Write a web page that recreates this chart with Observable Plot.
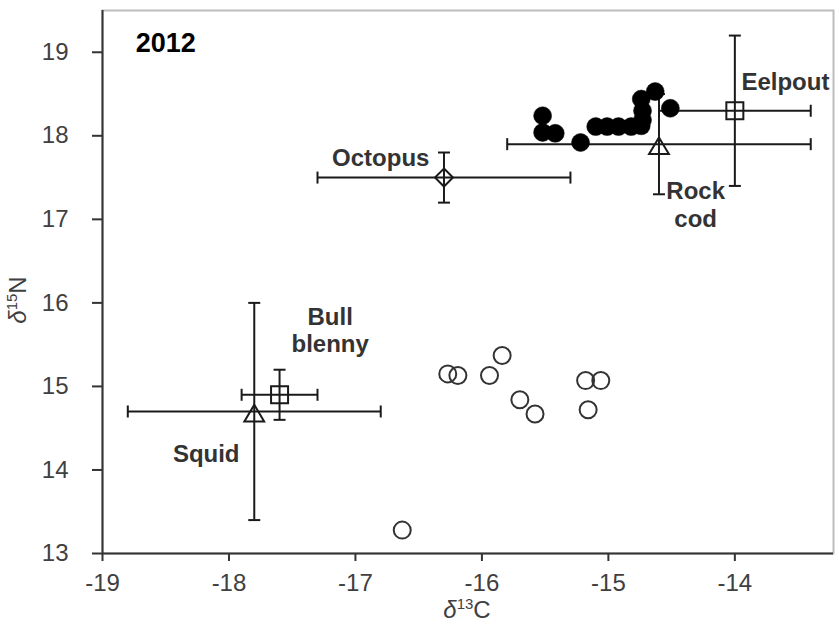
<!DOCTYPE html>
<html><head><meta charset="utf-8">
<script src="https://cdn.jsdelivr.net/npm/d3@7"></script>
<script src="https://cdn.jsdelivr.net/npm/@observablehq/plot@0.6"></script>
<style>
body{margin:0;background:#fff;}
#chart svg{display:block;}
</style>
</head><body><div id="chart"></div>
<script>
// Filled circles (one group of individuals)
const filledX = [-15.52, -15.52, -15.42, -15.22, -15.10, -15.01, -14.92, -14.82, -14.74, -14.73, -14.73, -14.74, -14.63, -14.51];
const filledY = [18.24, 18.04, 18.03, 17.92, 18.11, 18.11, 18.11, 18.11, 18.12, 18.19, 18.30, 18.44, 18.53, 18.33];
// Open circles (second group of individuals)
const openX = [-16.27, -16.19, -15.94, -15.84, -15.70, -15.58, -15.18, -15.06, -15.16, -16.63];
const openY = [15.15, 15.13, 15.13, 15.37, 14.84, 14.67, 15.07, 15.07, 14.72, 13.28];
// Prey species means ± SD
const species = ["Eelpout", "Rock cod", "Octopus", "Squid", "Bull blenny"];
const speciesX = [-14.0, -14.6, -16.3, -17.8, -17.6];
const speciesY = [18.3, 17.9, 17.5, 14.7, 14.9];
const speciesXErr = [0.6, 1.2, 1.0, 1.0, 0.3];
const speciesYErr = [0.9, 0.6, 0.3, 1.3, 0.3];
const speciesShape = ["square", "triangle", "diamond", "triangle", "square"];
// Annotation text and anchor (data units)
const labelText = ["2012", "Eelpout", "Rock\ncod", "Octopus", "Squid", "Bull\nblenny"];
const labelX = [-18.50, -13.60, -14.31, -16.80, -18.18, -17.20];
const labelY = [19.12, 18.66, 17.18, 17.74, 14.20, 15.68];
// Axes
const xTicks = [-19, -18, -17, -16, -15, -14];
const yTicks = [13, 14, 15, 16, 17, 18, 19];
const xDomain = [-19, -13.22];
const yDomain = [13, 19.5];

const filled = filledX.map((x, i) => ({x, y: filledY[i]}));
const open = openX.map((x, i) => ({x, y: openY[i]}));
const prey = species.map((name, i) => ({name, x: speciesX[i], y: speciesY[i], xe: speciesXErr[i], ye: speciesYErr[i], shape: speciesShape[i]}));
const labels = labelText.map((t, i) => ({t, x: labelX[i], y: labelY[i], year: i === 0}));

const hCap = {draw(ctx, size) { const h = Math.sqrt(size / Math.PI); ctx.moveTo(-h, 0); ctx.lineTo(h, 0); }};
const vCap = {draw(ctx, size) { const h = Math.sqrt(size / Math.PI); ctx.moveTo(0, -h); ctx.lineTo(0, h); }};
const tri = {draw(ctx, size) { const r = Math.sqrt(size / Math.PI); ctx.moveTo(0, -0.75 * r); ctx.lineTo(1.1 * r, 1.1 * r); ctx.lineTo(-1.1 * r, 1.1 * r); ctx.closePath(); }};
const sq = {draw(ctx, size) { const r = Math.sqrt(size / Math.PI); ctx.rect(-r, -r, 2 * r, 2 * r); }};
const dia = {draw(ctx, size) { const r = Math.sqrt(size / Math.PI); ctx.moveTo(0, -r); ctx.lineTo(r, 0); ctx.lineTo(0, r); ctx.lineTo(-r, 0); ctx.closePath(); }};
const shapeOf = {square: sq, triangle: tri, diamond: dia};

const barColor = "#1a1a1a";
const plot = Plot.plot({
  width: 839, height: 627,
  marginLeft: 102, marginRight: 6, marginTop: 10, marginBottom: 74,
  style: {fontFamily: "'Liberation Sans', Arial, sans-serif", background: "#fff", overflow: "visible"},
  x: {domain: xDomain, label: null},
  y: {domain: yDomain, label: null},
  marks: [
    Plot.frame({stroke: "#bdbdbd", strokeWidth: 2}),
    Plot.ruleX([xDomain[0]], {stroke: "#333", strokeWidth: 2}),
    Plot.ruleY([yDomain[0]], {stroke: "#333", strokeWidth: 2}),
    Plot.axisX({ticks: xTicks, tickSize: 8, tickPadding: 12, fontSize: 24, stroke: "#333", strokeWidth: 2, fill: "#404040", tickFormat: d => String(d)}),
    Plot.axisY({ticks: yTicks, tickSize: 10, tickPadding: 24, fontSize: 24, stroke: "#333", strokeWidth: 2, fill: "#404040", tickFormat: d => String(d)}),
    // error bars
    Plot.ruleY(prey, {y: "y", x1: d => d.x - d.xe, x2: d => d.x + d.xe, stroke: barColor, strokeWidth: 2}),
    Plot.ruleX(prey, {x: "x", y1: d => d.y - d.ye, y2: d => d.y + d.ye, stroke: barColor, strokeWidth: 2}),
    Plot.dot(prey, {x: d => d.x - d.xe, y: "y", symbol: vCap, r: 6, stroke: barColor, strokeWidth: 2, fill: "none"}),
    Plot.dot(prey, {x: d => d.x + d.xe, y: "y", symbol: vCap, r: 6, stroke: barColor, strokeWidth: 2, fill: "none"}),
    Plot.dot(prey, {x: "x", y: d => d.y - d.ye, symbol: hCap, r: 6, stroke: barColor, strokeWidth: 2, fill: "none"}),
    Plot.dot(prey, {x: "x", y: d => d.y + d.ye, symbol: hCap, r: 6, stroke: barColor, strokeWidth: 2, fill: "none"}),
    // prey markers
    ...["square", "triangle", "diamond"].map(s => Plot.dot(prey.filter(d => d.shape === s), {x: "x", y: "y", symbol: shapeOf[s], r: s === "square" ? 8.5 : 9, stroke: barColor, strokeWidth: 2, fill: "none"})),
    // individuals
    Plot.dot(open, {x: "x", y: "y", r: 8.5, stroke: "#333", strokeWidth: 2, fill: "none"}),
    Plot.dot(filled, {x: "x", y: "y", r: 9, fill: "#000", stroke: "#000", strokeWidth: 0.5}),
    // labels
    Plot.text(labels, {x: "x", y: "y", text: "t", fontSize: d => d.year ? 27 : 24, fontWeight: "bold", fill: d => d.year ? "#000" : "#333", lineHeight: 1.15, textAnchor: "middle"})
  ]
});
document.getElementById("chart").appendChild(plot);

const svg = d3.select(plot);
const xt = svg.append("text").attr("x", 467).attr("y", 618).attr("text-anchor", "middle")
  .attr("font-family", "'Liberation Sans', Arial, sans-serif").attr("font-size", 24).attr("fill", "#404040");
xt.append("tspan").attr("font-style", "italic").text("δ");
xt.append("tspan").attr("font-size", 15).attr("dy", -9).text("13");
xt.append("tspan").attr("dy", 9).text("C");
const yt = svg.append("text").attr("transform", "translate(26,300) rotate(-90)").attr("text-anchor", "middle")
  .attr("font-family", "'Liberation Sans', Arial, sans-serif").attr("font-size", 24).attr("fill", "#404040");
yt.append("tspan").attr("font-style", "italic").text("δ");
yt.append("tspan").attr("font-size", 15).attr("dy", -9).text("15");
yt.append("tspan").attr("dy", 9).text("N");
</script>
</body></html>
